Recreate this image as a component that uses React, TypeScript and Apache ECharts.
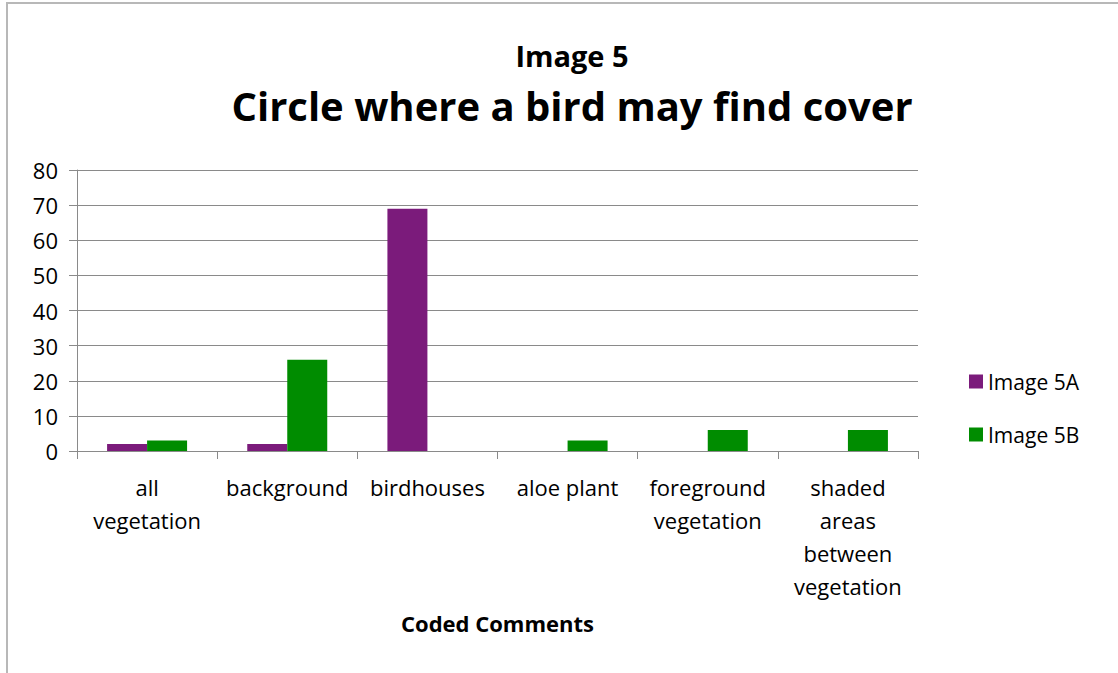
import React, { useEffect, useRef } from "react";
import * as echarts from "echarts";

const categories = [
  "all\nvegetation",
  "background",
  "birdhouses",
  "aloe plant",
  "foreground\nvegetation",
  "shaded\nareas\nbetween\nvegetation",
];
const image5A = [2, 2, 69, 0, 0, 0];
const image5B = [3, 26, 0, 3, 6, 6];
const seriesNames = ["Image 5A", "Image 5B"];
const FONT = "'Open Sans', 'Noto Sans', sans-serif";

export default function App() {
  const ref = useRef<HTMLDivElement>(null);

  useEffect(() => {
    document.body.style.margin = "0";
    const chart = echarts.init(ref.current!, null, { renderer: "svg" });
    chart.setOption({
      animation: false,
      backgroundColor: "#ffffff",
      textStyle: { fontFamily: FONT },
      title: [
        {
          text: "Image 5",
          left: 567,
          top: 36,
          textAlign: "center",
          textStyle: { fontSize: 29, fontWeight: "bold", color: "#000", fontFamily: FONT },
        },
        {
          text: "Circle where a bird may find cover",
          left: 567,
          top: 80,
          textAlign: "center",
          textStyle: { fontSize: 40, fontWeight: "bold", color: "#000", fontFamily: FONT },
        },
      ],
      graphic: [
        {
          type: "rect",
          shape: { x: 7, y: 3, width: 1200, height: 800 },
          style: { fill: "none", stroke: "#b8b8b8", lineWidth: 2 },
          silent: true,
        },
      ],
      legend: {
        orient: "vertical",
        left: 969,
        top: 371,
        padding: 0,
        itemWidth: 14,
        itemHeight: 14,
        itemGap: 32,
        icon: "rect",
        textStyle: { fontSize: 21, color: "#000", fontFamily: FONT, padding: [0, 0, 0, 0] },
        data: seriesNames,
      },
      grid: { left: 77, right: 200, top: 170, bottom: 222, containLabel: false },
      xAxis: {
        type: "category",
        data: categories,
        name: "Coded Comments",
        nameLocation: "middle",
        nameGap: 161,
        nameTextStyle: { fontSize: 22, fontWeight: "bold", color: "#000", fontFamily: FONT },
        axisLine: { lineStyle: { color: "#8a8a8a", width: 1 } },
        axisTick: { show: true, length: 8, lineStyle: { color: "#8a8a8a" } },
        axisLabel: {
          interval: 0,
          fontSize: 22,
          lineHeight: 33,
          color: "#000",
          margin: 19,
          fontFamily: FONT,
        },
      },
      yAxis: {
        type: "value",
        min: 0,
        max: 80,
        interval: 10,
        axisLine: { show: true, lineStyle: { color: "#8a8a8a", width: 1 } },
        axisTick: { show: true, length: 8, lineStyle: { color: "#8a8a8a" } },
        splitLine: { lineStyle: { color: "#8a8a8a", width: 1 } },
        axisLabel: { fontSize: 22, color: "#000", margin: 19, fontFamily: FONT },
      },
      series: [
        {
          name: seriesNames[0],
          type: "bar",
          data: image5A,
          barWidth: 40,
          barGap: "0%",
          itemStyle: { color: "#7b1b7b" },
        },
        {
          name: seriesNames[1],
          type: "bar",
          data: image5B,
          barWidth: 40,
          barGap: "0%",
          itemStyle: { color: "#008c00" },
        },
      ],
    });
    return () => chart.dispose();
  }, []);

  return <div ref={ref} style={{ width: 1118, height: 673 }} />;
}
